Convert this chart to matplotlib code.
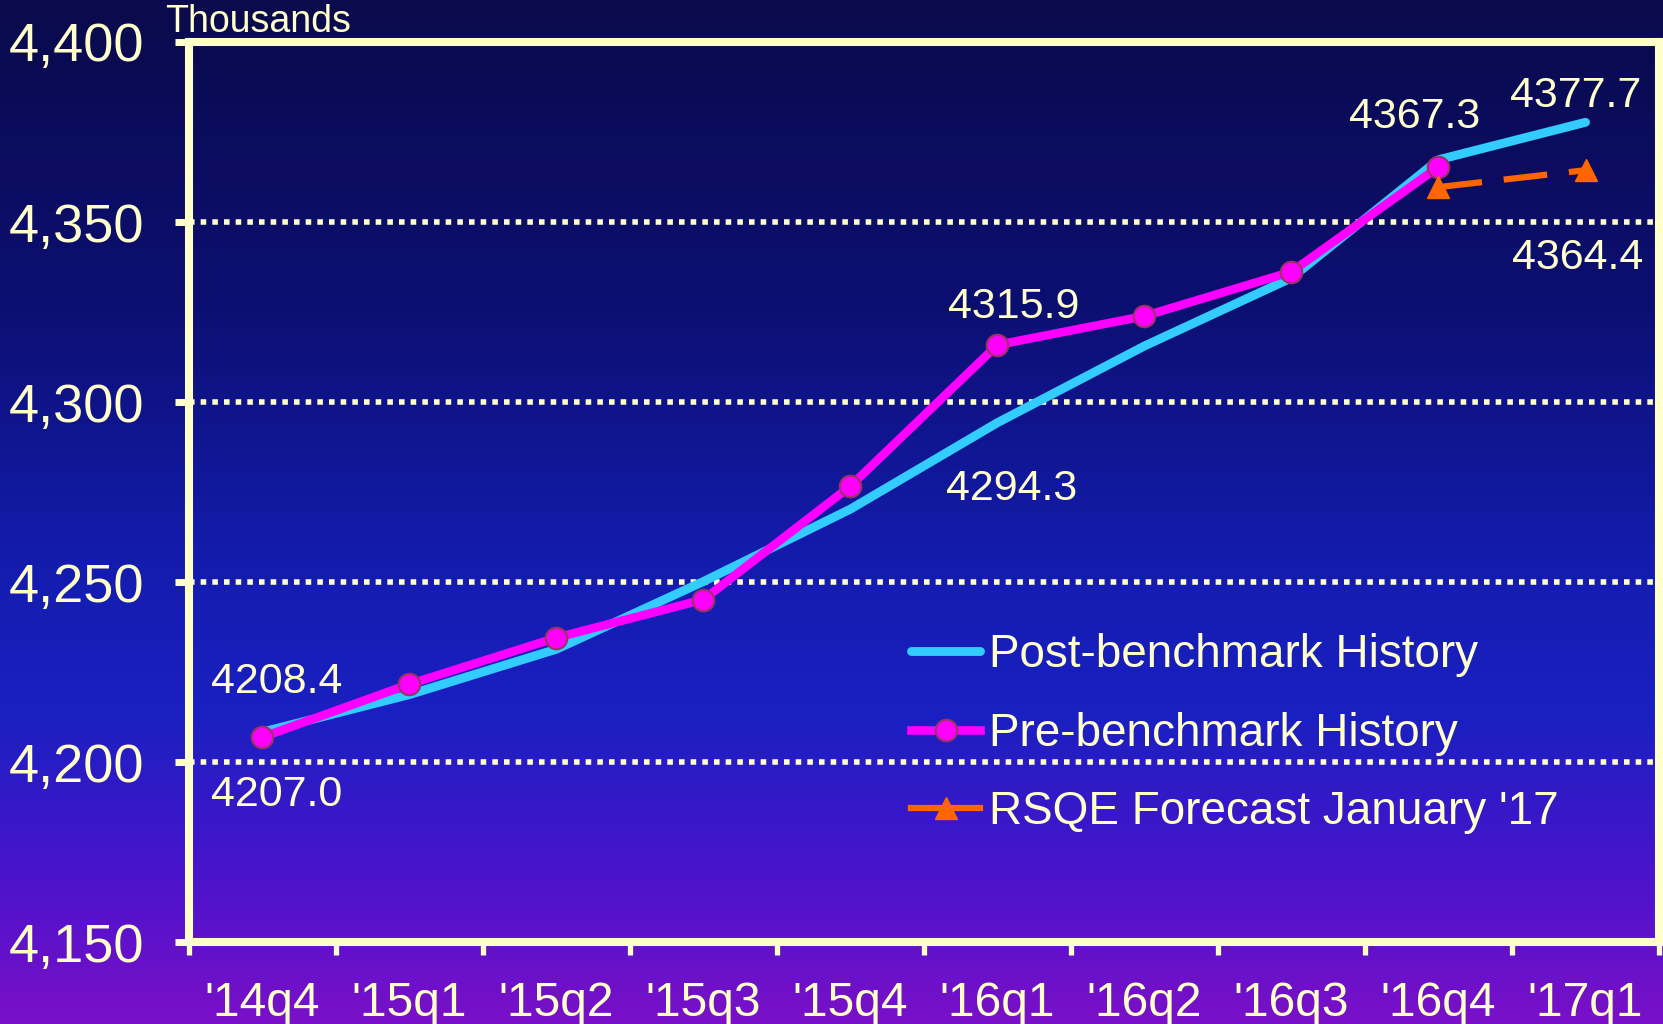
import numpy as np
import matplotlib
matplotlib.use("Agg")
import matplotlib.pyplot as plt
from matplotlib.colors import LinearSegmentedColormap
from matplotlib.lines import Line2D

plt.rcParams['font.family'] = ['Liberation Sans', 'DejaVu Sans']

quarters = ["'14q4", "'15q1", "'15q2", "'15q3", "'15q4",
            "'16q1", "'16q2", "'16q3", "'16q4", "'17q1"]
post_bench = [4208.4, 4218.8, 4231.4, 4250.2, 4270.3,
              4294.3, 4315.6, 4334.5, 4367.3, 4377.7]
pre_bench = [4207.0, 4221.7, 4234.6, 4245.2, 4276.7,
             4315.9, 4323.9, 4336.2, 4365.3]
forecast_q = ["'16q4", "'17q1"]
forecast = [4359.7, 4364.4]

cream = '#FFFFCC'
cyan = '#33CCFF'
magenta = '#FF00FF'
orange = '#FF6600'

fig = plt.figure(figsize=(16.63, 10.24), dpi=100)

# background gradient, navy at the top to violet at the bottom
bg = fig.add_axes([0, 0, 1, 1], zorder=-10)
bg_cmap = LinearSegmentedColormap.from_list('bg', [
    (0.0, '#0a0a4c'), (0.3, '#0c0f72'), (0.55, '#141cae'),
    (0.7, '#1a20c2'), (0.85, '#4814cc'), (1.0, '#7a10c8')])
bg.imshow(np.linspace(0, 1, 256).reshape(-1, 1), aspect='auto', cmap=bg_cmap,
          extent=[0, 1, 0, 1])
bg.axis('off')

ax = fig.add_axes([0.1136, 0.0797, 0.8840, 0.8793])
ax.set_facecolor('none')

x = np.arange(len(quarters))
xf = [quarters.index(q) for q in forecast_q]

ax.plot(x, post_bench, color=cyan, lw=6.4, solid_capstyle='round', zorder=3)
ax.plot(x[:len(pre_bench)], pre_bench, color=magenta, lw=6.2, marker='o', ms=15.5,
        mfc=magenta, mec='#993366', mew=1.5, zorder=4)
ax.plot(xf, forecast, color=orange, lw=4.5, ls=(0, (7, 3.5)), marker='^', ms=16,
        mec=orange, zorder=5)

ax.set_xlim(-0.5, len(quarters) - 0.5)
ax.set_ylim(4150, 4400)
ax.set_yticks(np.arange(4150, 4401, 50))
ax.yaxis.set_major_formatter(matplotlib.ticker.FuncFormatter(lambda v, p: f'{v:,.0f}'))
ax.set_xticks(np.arange(-0.5, len(quarters), 1.0))
ax.set_xticklabels([])
ax.set_xticks(x, minor=True)
ax.set_xticklabels(quarters, minor=True)

ax.tick_params(axis='y', direction='out', length=10, width=5, color=cream,
               labelcolor=cream, labelsize=39, pad=22)
ax.tick_params(axis='x', which='major', direction='out', length=9, width=3.8, color=cream)
ax.tick_params(axis='x', which='minor', length=0, labelcolor=cream, labelsize=34.5, pad=28)

for s in ax.spines.values():
    s.set_color(cream)
    s.set_linewidth(5.8)

for v in [4200, 4250, 4300, 4350]:
    ax.axhline(v, color=cream, lw=4, ls=(0, (1, 1.1)), dash_capstyle='butt', zorder=1)

# value labels at the series end points
lab = dict(color=cream, fontsize=31, ha='center', va='center',
           textcoords='offset points', annotation_clip=False)
ax.annotate(f'{post_bench[0]:.1f}', (x[0], post_bench[0]), xytext=(10, 36), **lab)
ax.annotate(f'{pre_bench[0]:.1f}', (x[0], pre_bench[0]), xytext=(10, -42), **lab)
ax.annotate(f'{pre_bench[5]:.1f}', (x[5], pre_bench[5]), xytext=(12, 27), **lab)
ax.annotate(f'{post_bench[5]:.1f}', (x[5], post_bench[5]), xytext=(10, -48), **lab)
ax.annotate(f'{post_bench[8]:.1f}', (x[8], post_bench[8]), xytext=(-17, 31), **lab)
ax.annotate(f'{post_bench[9]:.1f}', (x[9], post_bench[9]), xytext=(-7, 19), **lab)
ax.annotate(f'{forecast[1]:.1f}', (xf[1], forecast[1]), xytext=(-6, -63), **lab)

fig.text(0.099, 0.969, 'Thousands', color=cream, fontsize=27, ha='left', va='baseline')

handles = [
    Line2D([], [], color=cyan, lw=6.4, solid_capstyle='round'),
    Line2D([], [], color=magenta, lw=6.2, marker='o', ms=15.5, mfc=magenta,
           mec='#993366', mew=1.5),
    Line2D([], [], color=orange, lw=4.5, marker='^', ms=16, mec=orange),
]
labels = ['Post-benchmark History', 'Pre-benchmark History', "RSQE Forecast January '17"]
ax.legend(handles, labels, loc='upper left', bbox_to_anchor=(0.548, 0.382),
          bbox_transform=fig.transFigure, frameon=False, fontsize=33, labelcolor=cream,
          handlelength=1.5, handletextpad=0.2, labelspacing=0.76, borderpad=0,
          borderaxespad=0)

fig.savefig('out.png', dpi=100)
